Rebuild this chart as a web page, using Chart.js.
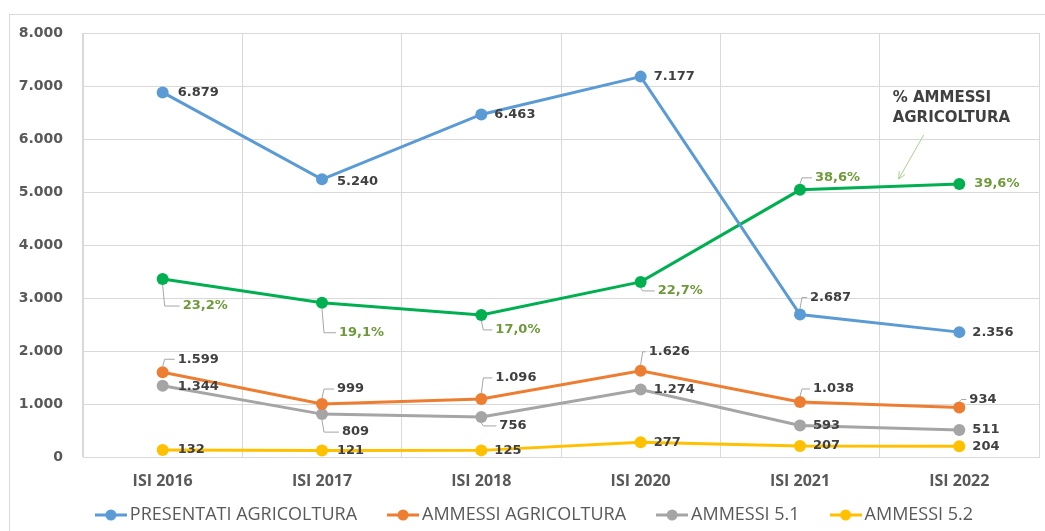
<!DOCTYPE html>
<html>
<head>
<meta charset="utf-8">
<script src="https://cdn.jsdelivr.net/npm/chart.js@4.4.1/dist/chart.umd.min.js"></script>
<style>
  html, body { margin: 0; padding: 0; background: #fff; }
  #wrap { position: relative; width: 1045px; height: 531px; overflow: hidden; }
  #frame { position: absolute; left: 9px; top: 14px; width: 1100px; height: 600px; border: 1px solid #d9d9d9; }
  #c { position: absolute; left: 0; top: 0; }
</style>
</head>
<body>
<div id="wrap">
  <div id="frame"></div>
  <canvas id="c" width="1045" height="531"></canvas>
</div>
<script>
const categories = ['ISI 2016', 'ISI 2017', 'ISI 2018', 'ISI 2020', 'ISI 2021', 'ISI 2022'];
const presentatiAgricoltura = [6879, 5240, 6463, 7177, 2687, 2356];
const ammessiAgricoltura = [1599, 999, 1096, 1626, 1038, 934];
const ammessi51 = [1344, 809, 756, 1274, 593, 511];
const ammessi52 = [132, 121, 125, 277, 207, 204];
const percAmmessi = [23.2, 19.1, 17.0, 22.7, 38.6, 39.6];
const yMin = 0, yMax = 8000, yStep = 1000;
const noteLines = ['% AMMESSI', 'AGRICOLTURA'];

// label placement next to each point: [dx, dy, leader line]
const labelOffsets = {
  presentati: [[15, 0], [15, 2], [13, 0], [13, 0], [10, -17, true], [13, 0]],
  perc: [[20, 27, true], [17, 30, true], [14, 15, true], [17, 9, true], [15, -12, true], [15, 0]],
  ammessi: [[15, -13, true], [15, -15, true], [14, -21, true], [8, -19, true], [13, -13, true], [10, -8, true]],
  a51: [[15, 1], [20, 18, true], [18, 9, true], [13, 0], [13, 0], [13, 0]],
  a52: [[15, 0], [15, 0], [13, 0], [13, 0], [13, 0], [13, 0]]
};

const fmtNum = v => String(v).replace(/\B(?=(\d{3})+(?!\d))/g, '.');
const fmtPerc = v => v.toFixed(1).replace('.', ',') + '%';

function marker(color) {
  const c = document.createElement('canvas');
  c.width = 32; c.height = 14;
  const g = c.getContext('2d');
  g.strokeStyle = color; g.lineWidth = 3;
  g.beginPath(); g.moveTo(0, 7); g.lineTo(32, 7); g.stroke();
  g.fillStyle = color;
  g.beginPath(); g.arc(16, 7, 5.5, 0, Math.PI * 2); g.fill();
  return c;
}

function series(label, data, color, key, fmt, axis, labelColor, inLegend) {
  return {
    label: label,
    data: data,
    borderColor: color,
    backgroundColor: color,
    borderWidth: 3,
    pointRadius: 6,
    pointHoverRadius: 6,
    pointBorderWidth: 0,
    tension: 0,
    yAxisID: axis,
    offsetKey: key,
    fmt: fmt,
    labelColor: labelColor,
    inLegend: inLegend,
    legendMarker: marker(color)
  };
}

const datasets = [
  series('PRESENTATI AGRICOLTURA', presentatiAgricoltura, '#5b9bd5', 'presentati', fmtNum, 'y', '#404040', true),
  series('AMMESSI AGRICOLTURA', ammessiAgricoltura, '#ed7d31', 'ammessi', fmtNum, 'y', '#404040', true),
  series('AMMESSI 5.1', ammessi51, '#a5a5a5', 'a51', fmtNum, 'y', '#404040', true),
  series('AMMESSI 5.2', ammessi52, '#ffc000', 'a52', fmtNum, 'y', '#404040', true),
  series('% AMMESSI AGRICOLTURA', percAmmessi, '#00b050', 'perc', fmtPerc, 'y2', '#6f9a3a', false)
];

const pointLabels = {
  id: 'pointLabels',
  afterDatasetsDraw(chart) {
    const ctx = chart.ctx;
    ctx.save();
    ctx.font = 'bold 13px "DejaVu Sans"';
    ctx.textAlign = 'left';
    ctx.textBaseline = 'middle';
    chart.data.datasets.forEach((ds, di) => {
      const meta = chart.getDatasetMeta(di);
      meta.data.forEach((pt, i) => {
        const off = labelOffsets[ds.offsetKey][i];
        const x = pt.x, y = pt.y;
        const lx = x + off[0], ly = y + off[1];
        if (off[2]) {
          ctx.strokeStyle = '#a6a6a6';
          ctx.lineWidth = 1;
          ctx.beginPath();
          ctx.moveTo(x, y + (off[1] < 0 ? -6 : 6));
          ctx.lineTo(x + 2, ly);
          ctx.lineTo(lx - 3, ly);
          ctx.stroke();
        }
        ctx.fillStyle = ds.labelColor;
        ctx.fillText(ds.fmt(ds.data[i]), lx, ly);
      });
    });
    ctx.restore();
  }
};

const noteBox = {
  id: 'noteBox',
  afterDatasetsDraw(chart) {
    const ctx = chart.ctx;
    const xs = chart.scales.x, ys = chart.scales.y;
    const left = xs.getPixelForValue(4.5) + 1;
    const top = ys.getPixelForValue(7000) + 1;
    ctx.save();
    ctx.fillStyle = '#fff';
    ctx.fillRect(left, top, chart.chartArea.right - left - 1, 48);
    ctx.fillStyle = '#404040';
    ctx.font = 'bold 15px "DejaVu Sans"';
    ctx.textBaseline = 'middle';
    ctx.textAlign = 'left';
    noteLines.forEach((t, i) => ctx.fillText(t, left + 12, top + 11 + i * 20));
    // arrow towards the green line
    const x0 = left + 43, y0 = top + 48, x1 = left + 18, y1 = top + 92;
    ctx.strokeStyle = '#a9d18e';
    ctx.lineWidth = 1;
    ctx.beginPath();
    ctx.moveTo(x0, y0); ctx.lineTo(x1, y1);
    const a = Math.atan2(y1 - y0, x1 - x0);
    ctx.moveTo(x1, y1); ctx.lineTo(x1 - 8 * Math.cos(a - 0.45), y1 - 8 * Math.sin(a - 0.45));
    ctx.moveTo(x1, y1); ctx.lineTo(x1 - 8 * Math.cos(a + 0.45), y1 - 8 * Math.sin(a + 0.45));
    ctx.stroke();
    ctx.restore();
  }
};

// keep legend compact vertically while using wide horizontal spacing
const legendFit = {
  id: 'legendFit',
  beforeLayout(chart) {
    const lg = chart.legend;
    if (lg && !lg._fitPatched) {
      const fit = lg.fit;
      const drawItems = lg._draw;
      lg.fit = function () { fit.call(this); this.height = 34; };
      lg._draw = function () {
        const c = this.ctx;
        c.save();
        c.translate(15, -27);
        drawItems.call(this);
        c.restore();
      };
      lg._fitPatched = true;
    }
  }
};

new Chart(document.getElementById('c'), {
  type: 'line',
  data: { labels: categories, datasets: datasets },
  plugins: [legendFit, pointLabels, noteBox],
  options: {
    responsive: false,
    animation: false,
    layout: { padding: { top: 33, right: 1, left: 0, bottom: 0 } },
    plugins: {
      tooltip: { enabled: false },
      legend: {
        position: 'bottom',
        labels: {
          usePointStyle: true,
          pointStyleWidth: 20,
          padding: 36,
          color: '#595959',
          font: { family: '"Open Sans"', size: 18 },
          generateLabels: chart => chart.data.datasets
            .map((ds, i) => ({
              text: ds.label,
              pointStyle: ds.legendMarker,
              fontColor: '#595959',
              fillStyle: 'transparent',
              strokeStyle: 'transparent',
              lineWidth: 0,
              hidden: false,
              datasetIndex: i,
              inLegend: ds.inLegend
            }))
            .filter(item => item.inLegend)
        }
      }
    },
    scales: {
      x: {
        offset: true,
        grid: { offset: true, color: '#d9d9d9', drawTicks: false },
        border: { color: '#d9d9d9' },
        ticks: { color: '#595959', padding: 15, font: { family: '"Open Sans"', size: 16, weight: 'bold' } },
        afterFit: s => { s.height = 40; }
      },
      y: {
        min: yMin,
        max: yMax,
        ticks: {
          stepSize: yStep,
          padding: 20,
          color: '#595959',
          font: { family: '"DejaVu Sans"', size: 14, weight: 'bold' },
          callback: v => fmtNum(v)
        },
        grid: { color: '#d9d9d9', drawTicks: false },
        border: { color: '#d9d9d9' },
        afterFit: s => { s.width = 83; }
      },
      y2: {
        display: false,
        min: -7.54,
        max: 65.69
      }
    }
  }
});
</script>
</body>
</html>
